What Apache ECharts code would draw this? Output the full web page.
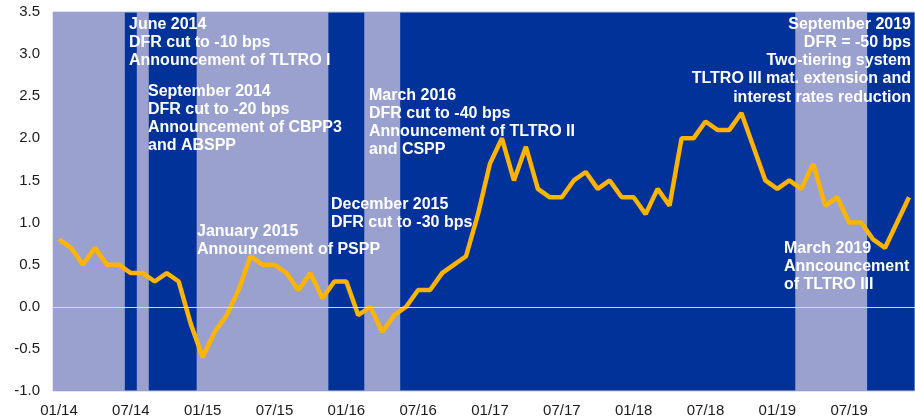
<!DOCTYPE html>
<html>
<head>
<meta charset="utf-8">
<script src="https://cdn.jsdelivr.net/npm/echarts@6/dist/echarts.min.js"></script>
<style>
    html, body { margin: 0; padding: 0; background: #fff; }
    #chart { width: 915px; height: 419px; }
</style>
</head>
<body>
<div id="chart"></div>
<script>
// months 01/14 .. 12/19
const years = ['14', '15', '16', '17', '18', '19'];
const months = [];
for (const y of years) {
    for (let m = 1; m <= 12; m++) {
        months.push((m < 10 ? '0' + m : '' + m) + '/' + y);
    }
}

const values = [
    0.8, 0.7, 0.5, 0.7, 0.5, 0.5, 0.4, 0.4, 0.3, 0.4, 0.3, -0.2,
    -0.6, -0.3, -0.1, 0.2, 0.6, 0.5, 0.5, 0.4, 0.2, 0.4, 0.1, 0.3,
    0.3, -0.1, 0.0, -0.3, -0.1, 0.0, 0.2, 0.2, 0.4, 0.5, 0.6, 1.1,
    1.7, 2.0, 1.5, 1.9, 1.4, 1.3, 1.3, 1.5, 1.6, 1.4, 1.5, 1.3,
    1.3, 1.1, 1.4, 1.2, 2.0, 2.0, 2.2, 2.1, 2.1, 2.3, 1.9, 1.5,
    1.4, 1.5, 1.4, 1.7, 1.2, 1.3, 1.0, 1.0, 0.8, 0.7, 1.0, 1.3
];

// periods drawn as light bands (first and last month, inclusive)
const shadedPeriods = [
    ['01/14', '06/14'],
    ['08/14', '08/14'],
    ['01/15', '11/15'],
    ['03/16', '05/16'],
    ['03/19', '08/19']
];

const notes = [
    { x: 129, y: 15, align: 'left', text: 'June 2014\nDFR cut to -10 bps\nAnnouncement of TLTRO I' },
    { x: 148, y: 82, align: 'left', text: 'September 2014\nDFR cut to -20 bps\nAnnouncement of CBPP3\nand ABSPP' },
    { x: 369, y: 86, align: 'left', text: 'March 2016\nDFR cut to -40 bps\nAnnouncement of TLTRO II\nand CSPP' },
    { x: 331, y: 195, align: 'left', text: 'December 2015\nDFR cut to -30 bps' },
    { x: 197, y: 222, align: 'left', text: 'January 2015\nAnnouncement of PSPP' },
    { x: 911, y: 15, align: 'right', text: 'September 2019\nDFR = -50 bps\nTwo-tiering system\nTLTRO III mat. extension and\ninterest rates reduction' },
    { x: 784, y: 239, align: 'left', text: 'March 2019\nAnncouncement\nof TLTRO III' }
];

// band edges on a hidden 0..72 month axis
const bands = shadedPeriods.map(p => [
    { xAxis: months.indexOf(p[0]) },
    { xAxis: months.indexOf(p[1]) + 1 }
]);

const font = '"Liberation Sans", Arial, sans-serif';
const chart = echarts.init(document.getElementById('chart'));

chart.setOption({
    animation: false,
    grid: {
        left: 53,
        top: 12,
        width: 864,
        height: 379,
        show: true,
        backgroundColor: '#003299',
        borderColor: '#c4c6d6',
        borderWidth: 1
    },
    xAxis: [
        {
            type: 'category',
            data: months,
            boundaryGap: true,
            axisLine: { show: false },
            axisTick: { show: false },
            axisLabel: {
                interval: 5,
                fontSize: 15,
                color: '#1a1a1a',
                fontFamily: font,
                margin: 12
            },
            splitLine: { show: false }
        },
        {
            type: 'value',
            min: 0,
            max: months.length,
            show: false
        }
    ],
    yAxis: {
        type: 'value',
        min: -1,
        max: 3.5,
        interval: 0.5,
        axisLine: { show: false },
        axisTick: { show: false },
        splitLine: { show: false },
        axisLabel: {
            fontSize: 15,
            color: '#1a1a1a',
            fontFamily: font,
            margin: 13,
            formatter: v => v.toFixed(1)
        }
    },
    series: [
        {
            type: 'line',
            xAxisIndex: 1,
            data: [],
            silent: true,
            z: 1,
            markArea: {
                silent: true,
                itemStyle: { color: '#9aa1ce', opacity: 1 },
                data: bands
            }
        },
        {
            type: 'line',
            data: values,
            symbol: 'none',
            lineStyle: { color: '#ffb400', width: 4.5 },
            itemStyle: { color: '#ffb400' },
            z: 3,
            markLine: {
                silent: true,
                symbol: 'none',
                label: { show: false },
                lineStyle: { color: '#d8d8d8', width: 1, type: 'solid' },
                data: [{ yAxis: 0 }]
            }
        }
    ],
    graphic: notes.map(n => ({
        type: 'text',
        x: n.x,
        y: n.y,
        z: 10,
        style: {
            text: n.text,
            fill: '#ffffff',
            font: 'bold 16px ' + font,
            lineHeight: 18.3,
            align: n.align,
            verticalAlign: 'top'
        }
    }))
});
</script>
</body>
</html>
